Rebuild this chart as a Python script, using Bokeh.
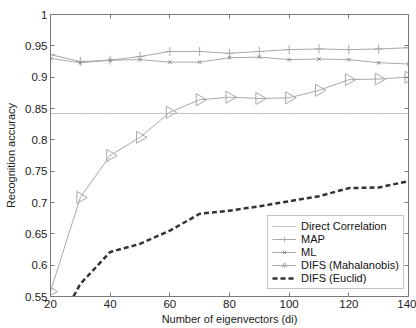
import math
from bokeh.plotting import figure
from bokeh.models import LinearAxis, FixedTicker, Legend, LegendItem, Range1d, CustomJSTickFormatter
from bokeh.embed import file_html
from bokeh.resources import INLINE

x_vals = [20, 30, 40, 50, 60, 70, 80, 90, 100, 110, 120, 130, 140]
direct_corr = [0.842] * 13
map_vals = [0.936, 0.925, 0.927, 0.933, 0.941, 0.941, 0.938, 0.941, 0.944, 0.945, 0.944, 0.945, 0.947]
ml_vals = [0.930, 0.923, 0.927, 0.928, 0.924, 0.924, 0.931, 0.932, 0.928, 0.929, 0.928, 0.923, 0.921]
difs_mah = [0.558, 0.708, 0.775, 0.804, 0.844, 0.864, 0.868, 0.866, 0.867, 0.879, 0.896, 0.897, 0.900]
difs_euc = [0.483, 0.570, 0.621, 0.634, 0.655, 0.682, 0.687, 0.694, 0.702, 0.710, 0.723, 0.724, 0.734]

x_ticks = [20, 40, 60, 80, 100, 120, 140]
y_ticks = [0.55, 0.6, 0.65, 0.7, 0.75, 0.8, 0.85, 0.9, 0.95, 1.0]
y_tick_labels = ["0.55", "0.6", "0.65", "0.7", "0.75", "0.8", "0.85", "0.9", "0.95", "1"]

FONT = "Liberation Sans"
AX = "#7a7a7a"
GRAY = "#a8a8a8"

p = figure(width=416, height=328, output_backend="svg", toolbar_location=None,
           x_range=Range1d(20, 140), y_range=Range1d(0.55, 1.0),
           min_border_left=50, min_border_right=8, min_border_top=14, min_border_bottom=32)
p.xgrid.visible = False
p.ygrid.visible = False
p.outline_line_color = AX
p.background_fill_color = "white"

def style_axis(ax):
    ax.axis_line_color = AX
    ax.major_tick_line_color = AX
    ax.minor_tick_line_color = None
    ax.major_tick_in = 4
    ax.major_tick_out = 0
    ax.major_label_text_font = FONT
    ax.major_label_text_font_size = "11.5px"
    ax.major_label_text_color = "#222222"
    ax.axis_label_text_font = FONT
    ax.axis_label_text_font_size = "11px"
    ax.axis_label_text_font_style = "normal"
    ax.axis_label_text_color = "#222222"

p.xaxis.ticker = FixedTicker(ticks=x_ticks)
p.yaxis.ticker = FixedTicker(ticks=y_ticks)
p.yaxis.major_label_overrides = {t: l for t, l in zip(y_ticks, y_tick_labels)}
p.xaxis.axis_label = "Number of eigenvectors (di)"
p.yaxis.axis_label = "Recognition accuracy"
style_axis(p.xaxis[0])
style_axis(p.yaxis[0])
p.xaxis.major_label_standoff = 3
p.xaxis.axis_label_standoff = 2
p.yaxis.major_label_standoff = 3
p.yaxis.axis_label_standoff = 5

blank = CustomJSTickFormatter(code="return ''")
top = LinearAxis(ticker=FixedTicker(ticks=x_ticks), formatter=blank)
style_axis(top)
p.add_layout(top, "above")
right = LinearAxis(ticker=FixedTicker(ticks=y_ticks), formatter=blank)
style_axis(right)
p.add_layout(right, "right")

r_dc = p.line(x_vals, direct_corr, line_color="#c4c4c4", line_width=1)
r_map = p.line(x_vals, map_vals, line_color=GRAY, line_width=1)
m_map = p.scatter(x_vals, map_vals, marker="cross", size=9, line_color=GRAY, fill_color=None)
r_ml = p.line(x_vals, ml_vals, line_color=GRAY, line_width=1)
m_ml = p.scatter(x_vals, ml_vals, marker="x", size=5, line_color="#8a8a8a", fill_color=None)
r_mah = p.line(x_vals, difs_mah, line_color=GRAY, line_width=1)
m_mah = p.scatter(x_vals, difs_mah, marker="triangle", angle=-math.pi / 2, size=12,
                  line_color=GRAY, fill_color=None)
r_euc = p.line(x_vals, difs_euc, line_color="#333333", line_width=2.5, line_dash="5 3")

legend = Legend(items=[
    LegendItem(label="Direct Correlation", renderers=[r_dc]),
    LegendItem(label="MAP", renderers=[r_map, m_map]),
    LegendItem(label="ML", renderers=[r_ml, m_ml]),
    LegendItem(label="DIFS (Mahalanobis)", renderers=[r_mah, m_mah]),
    LegendItem(label="DIFS (Euclid)", renderers=[r_euc]),
], location=(217, 7))
legend.label_text_font = FONT
legend.label_text_font_size = "11px"
legend.label_text_color = "#111111"
legend.label_height = 12
legend.glyph_height = 12
legend.glyph_width = 24
legend.spacing = 1
legend.padding = 4
legend.margin = 0
legend.border_line_color = "#8a8a8a"
legend.background_fill_alpha = 1
p.add_layout(legend)

open("out.html", "w").write(file_html(p, INLINE))
